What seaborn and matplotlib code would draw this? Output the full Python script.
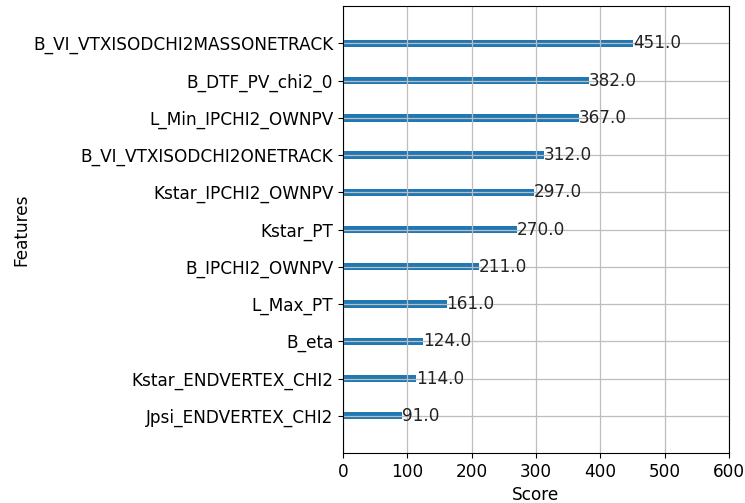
import matplotlib
matplotlib.use("Agg")
import matplotlib.pyplot as plt
import seaborn as sns
import pandas as pd

features = [
    "B_VI_VTXISODCHI2MASSONETRACK",
    "B_DTF_PV_chi2_0",
    "L_Min_IPCHI2_OWNPV",
    "B_VI_VTXISODCHI2ONETRACK",
    "Kstar_IPCHI2_OWNPV",
    "Kstar_PT",
    "B_IPCHI2_OWNPV",
    "L_Max_PT",
    "B_eta",
    "Kstar_ENDVERTEX_CHI2",
    "Jpsi_ENDVERTEX_CHI2",
]
scores = [451.0, 382.0, 367.0, 312.0, 297.0, 270.0, 211.0, 161.0, 124.0, 114.0, 91.0]
x_ticks = [0, 100, 200, 300, 400, 500, 600]

df = pd.DataFrame({"feature": features, "score": scores})

plt.rcParams["font.family"] = ["DejaVu Sans"]
plt.rcParams["font.size"] = 12.2

fig = plt.figure(figsize=(7.45, 5.03), dpi=100)
ax = fig.add_axes([0.4604, 0.0994, 0.5181, 0.8886])

sns.barplot(data=df, y="feature", x="score", orient="h", width=0.2,
            color="#1f77b4", saturation=1, ax=ax)

for i, v in enumerate(scores):
    ax.text(v, i, f"{v}", va="center", ha="left", fontsize=12.2, color="#222222")

ax.set_xlim(0, 600)
ax.set_xticks(x_ticks)
ax.set_ylim(len(features), -1)
ax.grid(True, color="#bdbdbd", linewidth=0.9)
ax.set_xlabel("Score", fontsize=12.2)
ax.set_ylabel("Features", fontsize=12.2, labelpad=2)

fig.savefig("out.png", dpi=100)
